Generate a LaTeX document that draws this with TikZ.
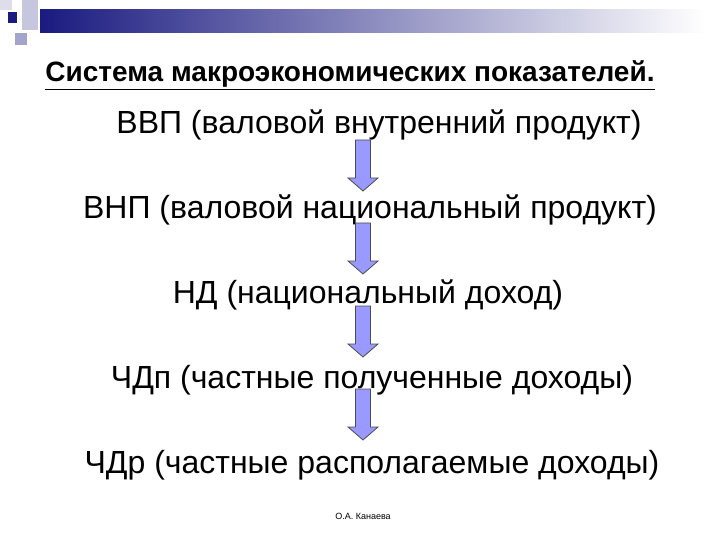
\documentclass[tikz,border=0pt]{standalone}
\usepackage{fontspec}
\setmainfont{Liberation Sans}
\definecolor{navy}{HTML}{1A1A80}
\definecolor{arrfill}{HTML}{9999FF}
\tikzset{
 line/.style={font=\fontsize{32}{36}\selectfont, inner sep=0pt},
 darr/.style={draw=black!70, fill=arrfill, line width=0.8pt, line join=miter},
}
\newcommand{\downarr}[1]{\draw[darr] ([xshift=-7.5]#1) -- ++(0,38) -- ++(-7.5,0) -- ++(15,13) -- ++(15,-13) -- ++(-7.5,0) -- ++(0,-38) -- cycle;}
\begin{document}
\begin{tikzpicture}[x=1pt,y=-1pt]
\useasboundingbox (0,0) rectangle (720,540);
\fill[left color=navy, right color=white] (40,10) rectangle (705,33);
\fill[navy!25] (22,0) rectangle (38,30);
\fill[navy!40] (15,33) rectangle (27,45);
\fill[navy!15] (0,0) rectangle (12,10);
\fill[navy] (8,12) rectangle (17,23);
\node[font=\bfseries\fontsize{28}{32}\selectfont, inner sep=0pt] (title) at (350,75) {\underline{Система макроэкономических показателей.}};
\node[line] (l1) at (379,125) {ВВП (валовой внутренний продукт)};
\node[line] (l2) at (370,210) {ВНП (валовой национальный продукт)};
\node[line] (l3) at (368,295) {НД (национальный доход)};
\node[line] (l4) at (372,380) {ЧДп (частные полученные доходы)};
\node[line] (l5) at (372,465) {ЧДр (частные располагаемые доходы)};
\foreach \y/\n in {140/a1,223/a2,306/a3,389/a4} {
  \coordinate (\n) at (363,\y);
  \downarr{\n}
}
\node[font=\fontsize{9}{10}\selectfont] (foot) at (363,516) {О.А. Канаева};
\end{tikzpicture}
\end{document}
